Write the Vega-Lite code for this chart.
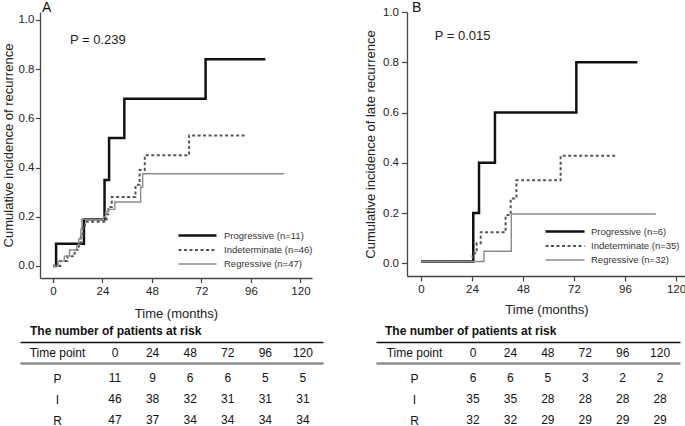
{
  "$schema": "https://vega.github.io/schema/vega-lite/v6.json",
  "padding": {"left": 2, "top": 0, "right": 0, "bottom": 0},
  "background": "white",
  "config": {
    "view": {"stroke": null},
    "font": "Liberation Sans",
    "axis": {"grid": false, "domainColor": "#444444", "domainWidth": 1.3, "tickColor": "#444444", "tickWidth": 1.2, "labelFont": "Liberation Sans", "labelFontSize": 11.5, "labelColor": "#222222", "titleFont": "Liberation Sans", "titleFontSize": 13, "titleFontWeight": "normal", "titleColor": "#222222"},
    "legend": {"labelFont": "Liberation Sans", "labelFontSize": 9.5, "labelColor": "#333333"},
    "title": {"font": "Liberation Sans", "fontWeight": "normal", "color": "#111111"},
    "text": {"font": "Liberation Sans"}
  },
  "datasets": {
    "kmA": [
      {"group": "Progressive (n=11)", "time": 0, "cum": 0},
      {"group": "Progressive (n=11)", "time": 1.5, "cum": 0.09},
      {"group": "Progressive (n=11)", "time": 15, "cum": 0.19},
      {"group": "Progressive (n=11)", "time": 25, "cum": 0.35},
      {"group": "Progressive (n=11)", "time": 27.2, "cum": 0.52},
      {"group": "Progressive (n=11)", "time": 34.6, "cum": 0.68},
      {"group": "Progressive (n=11)", "time": 74, "cum": 0.84},
      {"group": "Progressive (n=11)", "time": 103, "cum": 0.84},
      {"group": "Indeterminate (n=46)", "time": 0, "cum": 0},
      {"group": "Indeterminate (n=46)", "time": 3.5, "cum": 0.02},
      {"group": "Indeterminate (n=46)", "time": 7, "cum": 0.04},
      {"group": "Indeterminate (n=46)", "time": 10.5, "cum": 0.065},
      {"group": "Indeterminate (n=46)", "time": 12.5, "cum": 0.09},
      {"group": "Indeterminate (n=46)", "time": 13.5, "cum": 0.13},
      {"group": "Indeterminate (n=46)", "time": 14.5, "cum": 0.16},
      {"group": "Indeterminate (n=46)", "time": 15.5, "cum": 0.18},
      {"group": "Indeterminate (n=46)", "time": 26, "cum": 0.21},
      {"group": "Indeterminate (n=46)", "time": 26.8, "cum": 0.24},
      {"group": "Indeterminate (n=46)", "time": 28.5, "cum": 0.28},
      {"group": "Indeterminate (n=46)", "time": 40, "cum": 0.33},
      {"group": "Indeterminate (n=46)", "time": 42, "cum": 0.39},
      {"group": "Indeterminate (n=46)", "time": 44.5, "cum": 0.45},
      {"group": "Indeterminate (n=46)", "time": 66, "cum": 0.53},
      {"group": "Indeterminate (n=46)", "time": 93, "cum": 0.53},
      {"group": "Regressive (n=47)", "time": 0, "cum": 0},
      {"group": "Regressive (n=47)", "time": 2.5, "cum": 0.02},
      {"group": "Regressive (n=47)", "time": 5.5, "cum": 0.04},
      {"group": "Regressive (n=47)", "time": 8, "cum": 0.065},
      {"group": "Regressive (n=47)", "time": 11.5, "cum": 0.085},
      {"group": "Regressive (n=47)", "time": 12.5, "cum": 0.11},
      {"group": "Regressive (n=47)", "time": 13.5, "cum": 0.15},
      {"group": "Regressive (n=47)", "time": 14, "cum": 0.19},
      {"group": "Regressive (n=47)", "time": 24.5, "cum": 0.2},
      {"group": "Regressive (n=47)", "time": 25.5, "cum": 0.22},
      {"group": "Regressive (n=47)", "time": 27, "cum": 0.23},
      {"group": "Regressive (n=47)", "time": 30, "cum": 0.26},
      {"group": "Regressive (n=47)", "time": 42.5, "cum": 0.32},
      {"group": "Regressive (n=47)", "time": 43.5, "cum": 0.375},
      {"group": "Regressive (n=47)", "time": 112, "cum": 0.375}
    ],
    "kmB": [
      {"group": "Progressive (n=6)", "time": 0, "cum": 0.007},
      {"group": "Progressive (n=6)", "time": 24.6, "cum": 0.2},
      {"group": "Progressive (n=6)", "time": 27.3, "cum": 0.4},
      {"group": "Progressive (n=6)", "time": 34.8, "cum": 0.6},
      {"group": "Progressive (n=6)", "time": 73.1, "cum": 0.8},
      {"group": "Progressive (n=6)", "time": 101.8, "cum": 0.8},
      {"group": "Indeterminate (n=35)", "time": 0, "cum": 0.007},
      {"group": "Indeterminate (n=35)", "time": 24.3, "cum": 0.04},
      {"group": "Indeterminate (n=35)", "time": 26.2, "cum": 0.08},
      {"group": "Indeterminate (n=35)", "time": 28.1, "cum": 0.124},
      {"group": "Indeterminate (n=35)", "time": 39.8, "cum": 0.192},
      {"group": "Indeterminate (n=35)", "time": 42.2, "cum": 0.258},
      {"group": "Indeterminate (n=35)", "time": 44.9, "cum": 0.331},
      {"group": "Indeterminate (n=35)", "time": 65.7, "cum": 0.428},
      {"group": "Indeterminate (n=35)", "time": 91.6, "cum": 0.428},
      {"group": "Regressive (n=32)", "time": 0, "cum": 0.007},
      {"group": "Regressive (n=32)", "time": 29.6, "cum": 0.048},
      {"group": "Regressive (n=32)", "time": 42.5, "cum": 0.196},
      {"group": "Regressive (n=32)", "time": 110.5, "cum": 0.196}
    ],
    "riskA": [
      {"row": "Time point", "time": 0, "n": "0"},
      {"row": "Time point", "time": 24, "n": "24"},
      {"row": "Time point", "time": 48, "n": "48"},
      {"row": "Time point", "time": 72, "n": "72"},
      {"row": "Time point", "time": 96, "n": "96"},
      {"row": "Time point", "time": 120, "n": "120"},
      {"row": "P", "time": 0, "n": "11"},
      {"row": "P", "time": 24, "n": "9"},
      {"row": "P", "time": 48, "n": "6"},
      {"row": "P", "time": 72, "n": "6"},
      {"row": "P", "time": 96, "n": "5"},
      {"row": "P", "time": 120, "n": "5"},
      {"row": "I", "time": 0, "n": "46"},
      {"row": "I", "time": 24, "n": "38"},
      {"row": "I", "time": 48, "n": "32"},
      {"row": "I", "time": 72, "n": "31"},
      {"row": "I", "time": 96, "n": "31"},
      {"row": "I", "time": 120, "n": "31"},
      {"row": "R", "time": 0, "n": "47"},
      {"row": "R", "time": 24, "n": "37"},
      {"row": "R", "time": 48, "n": "34"},
      {"row": "R", "time": 72, "n": "34"},
      {"row": "R", "time": 96, "n": "34"},
      {"row": "R", "time": 120, "n": "34"}
    ],
    "riskB": [
      {"row": "Time point", "time": 0, "n": "0"},
      {"row": "Time point", "time": 24, "n": "24"},
      {"row": "Time point", "time": 48, "n": "48"},
      {"row": "Time point", "time": 72, "n": "72"},
      {"row": "Time point", "time": 96, "n": "96"},
      {"row": "Time point", "time": 120, "n": "120"},
      {"row": "P", "time": 0, "n": "6"},
      {"row": "P", "time": 24, "n": "6"},
      {"row": "P", "time": 48, "n": "5"},
      {"row": "P", "time": 72, "n": "3"},
      {"row": "P", "time": 96, "n": "2"},
      {"row": "P", "time": 120, "n": "2"},
      {"row": "I", "time": 0, "n": "35"},
      {"row": "I", "time": 24, "n": "35"},
      {"row": "I", "time": 48, "n": "28"},
      {"row": "I", "time": 72, "n": "28"},
      {"row": "I", "time": 96, "n": "28"},
      {"row": "I", "time": 120, "n": "28"},
      {"row": "R", "time": 0, "n": "32"},
      {"row": "R", "time": 24, "n": "32"},
      {"row": "R", "time": 48, "n": "29"},
      {"row": "R", "time": 72, "n": "29"},
      {"row": "R", "time": 96, "n": "29"},
      {"row": "R", "time": 120, "n": "29"}
    ]
  },
  "resolve": {"scale": {"color": "independent", "strokeDash": "independent", "strokeWidth": "independent"}, "legend": {"color": "independent", "strokeDash": "independent", "strokeWidth": "independent"}},
  "spacing": -8,
  "vconcat": [
    {
      "spacing": 51,
      "resolve": {"scale": {"color": "independent", "strokeDash": "independent", "strokeWidth": "independent"}, "legend": {"color": "independent", "strokeDash": "independent", "strokeWidth": "independent"}},
      "hconcat": [
        {
          "width": 272,
          "height": 266,
          "layer": [
            {
              "data": {"name": "kmA"},
              "mark": {"type": "line", "interpolate": "step-after"},
              "encoding": {
                "x": {"field": "time", "type": "quantitative", "scale": {"domain": [-6.3, 125.6], "nice": false, "zero": false}, "axis": {"title": "Time (months)", "values": [0, 24, 48, 72, 96, 120], "tickSize": 4.5, "labelPadding": 2.5, "titlePadding": 11}},
                "y": {"field": "cum", "type": "quantitative", "scale": {"domain": [-0.0488, 1.0325], "nice": false, "zero": false}, "axis": {"title": "Cumulative incidence of recurrence", "values": [0, 0.2, 0.4, 0.6, 0.8, 1.0], "format": ".1f", "tickSize": 4.5, "labelPadding": 1.5, "titlePadding": 3}},
                "color": {"field": "group", "type": "nominal", "scale": {"domain": ["Progressive (n=11)", "Indeterminate (n=46)", "Regressive (n=47)"], "range": ["#111111", "#555555", "#8a8a8a"]}, "legend": {"title": null, "orient": "none", "legendX": 132, "legendY": 217, "symbolType": "M0,0H7.6", "symbolSize": 100, "labelOffset": 39, "rowPadding": 3, "padding": 0}},
                "strokeDash": {"field": "group", "type": "nominal", "scale": {"domain": ["Progressive (n=11)", "Indeterminate (n=46)", "Regressive (n=47)"], "range": [[1, 0], [3, 2.5], [1, 0]]}},
                "strokeWidth": {"field": "group", "type": "nominal", "scale": {"type": "ordinal", "domain": ["Progressive (n=11)", "Indeterminate (n=46)", "Regressive (n=47)"], "range": [2.5, 2, 1.4]}}
              }
            },
            {
              "data": {"values": [{"label": "P = 0.239"}]},
              "mark": {"type": "text", "align": "left", "baseline": "middle", "fontSize": 13, "color": "#222222"},
              "encoding": {"x": {"datum": 8.2}, "y": {"datum": 0.9175}, "text": {"field": "label"}}
            },
            {
              "data": {"values": [{"label": "A"}]},
              "mark": {"type": "text", "align": "center", "baseline": "middle", "fontSize": 14, "color": "#111111"},
              "encoding": {"x": {"datum": -3.05}, "y": {"datum": 1.049}, "text": {"field": "label"}}
            }
          ]
        },
        {
          "width": 279,
          "height": 264,
          "layer": [
            {
              "data": {"name": "kmB"},
              "mark": {"type": "line", "interpolate": "step-after"},
              "encoding": {
                "x": {"field": "time", "type": "quantitative", "scale": {"domain": [-6.59, 124.7], "nice": false, "zero": false}, "axis": {"title": "Time (months)", "values": [0, 24, 48, 72, 96, 120], "tickSize": 5, "labelPadding": 2.5, "titlePadding": 8}},
                "y": {"field": "cum", "type": "quantitative", "scale": {"domain": [-0.0505, 1.0], "nice": false, "zero": false}, "axis": {"title": "Cumulative incidence of late recurrence", "values": [0, 0.2, 0.4, 0.6, 0.8, 1.0], "format": ".1f", "tickSize": 5.5, "labelPadding": 3, "titlePadding": 5}},
                "color": {"field": "group", "type": "nominal", "scale": {"domain": ["Progressive (n=6)", "Indeterminate (n=35)", "Regressive (n=32)"], "range": ["#111111", "#555555", "#8a8a8a"]}, "legend": {"title": null, "orient": "none", "legendX": 132, "legendY": 213, "symbolType": "M0,0H7.8", "symbolSize": 100, "labelOffset": 39, "rowPadding": 3, "padding": 0}},
                "strokeDash": {"field": "group", "type": "nominal", "scale": {"domain": ["Progressive (n=6)", "Indeterminate (n=35)", "Regressive (n=32)"], "range": [[1, 0], [3, 2.5], [1, 0]]}},
                "strokeWidth": {"field": "group", "type": "nominal", "scale": {"type": "ordinal", "domain": ["Progressive (n=6)", "Indeterminate (n=35)", "Regressive (n=32)"], "range": [2.5, 2, 1.4]}}
              }
            },
            {
              "data": {"values": [{"label": "P = 0.015"}]},
              "mark": {"type": "text", "align": "left", "baseline": "middle", "fontSize": 13, "color": "#222222"},
              "encoding": {"x": {"datum": 6.45}, "y": {"datum": 0.903}, "text": {"field": "label"}}
            },
            {
              "data": {"values": [{"label": "B"}]},
              "mark": {"type": "text", "align": "center", "baseline": "middle", "fontSize": 14, "color": "#111111"},
              "encoding": {"x": {"datum": -2.0}, "y": {"datum": 1.016}, "text": {"field": "label"}}
            }
          ]
        }
      ]
    },
    {
      "spacing": 49,
      "hconcat": [
        {
          "width": 283,
          "height": 105,
          "data": {"name": "riskA"},
          "title": {"text": "The number of patients at risk", "anchor": "start", "frame": "group", "dx": -10, "offset": -22.5, "fontSize": 12, "fontWeight": "bold"},
          "encoding": {
            "y": {"field": "row", "type": "nominal", "scale": {"domain": ["", "Time point", "P", "I", "R"], "paddingInner": 0, "paddingOuter": 0},
              "axis": {"title": null, "domain": false, "offset": 20, "tickBand": "extent", "tickSize": -303,
                "tickColor": {"condition": {"test": "datum.value === 'Time point'", "value": "#8c8c8c"}, "value": "#111111"},
                "tickWidth": {"condition": {"test": "datum.value === 'Time point'", "value": 2.5}, "value": 1.3},
                "tickOpacity": {"condition": {"test": "(datum.value === '' && !datum.extra) || datum.value === 'Time point'", "value": 1}, "value": 0},
                "labelAlign": "center", "labelBaseline": "middle", "labelPadding": 266, "labelFontSize": 12, "labelColor": "#111111", "labelOverlap": false,
                "labelOffset": {"condition": {"test": "datum.value === 'Time point'", "value": 0}, "value": 4.5}}},
            "x": {"field": "time", "type": "quantitative", "scale": {"domain": [-47.9, 132.8], "nice": false, "zero": false}, "axis": null},
            "text": {"field": "n", "type": "nominal"}
          },
          "layer": [
            {"transform": [{"filter": "datum.row === 'Time point'"}], "mark": {"type": "text", "fontSize": 12, "color": "#111111"}},
            {"transform": [{"filter": "datum.row !== 'Time point'"}], "mark": {"type": "text", "fontSize": 12, "color": "#111111", "dy": 4.5}}
          ]
        },
        {
          "width": 284,
          "height": 105,
          "data": {"name": "riskB"},
          "title": {"text": "The number of patients at risk", "anchor": "start", "frame": "group", "dx": -11, "offset": -22.5, "fontSize": 12, "fontWeight": "bold"},
          "encoding": {
            "y": {"field": "row", "type": "nominal", "scale": {"domain": ["", "Time point", "P", "I", "R"], "paddingInner": 0, "paddingOuter": 0},
              "axis": {"title": null, "domain": false, "offset": 20, "tickBand": "extent", "tickSize": -304,
                "tickColor": {"condition": {"test": "datum.value === 'Time point'", "value": "#8c8c8c"}, "value": "#111111"},
                "tickWidth": {"condition": {"test": "datum.value === 'Time point'", "value": 2.5}, "value": 1.3},
                "tickOpacity": {"condition": {"test": "(datum.value === '' && !datum.extra) || datum.value === 'Time point'", "value": 1}, "value": 0},
                "labelAlign": "center", "labelBaseline": "middle", "labelPadding": 266, "labelFontSize": 12, "labelColor": "#111111", "labelOverlap": false,
                "labelOffset": {"condition": {"test": "datum.value === 'Time point'", "value": 0}, "value": 4.5}}},
            "x": {"field": "time", "type": "quantitative", "scale": {"domain": [-49.4, 132.8], "nice": false, "zero": false}, "axis": null},
            "text": {"field": "n", "type": "nominal"}
          },
          "layer": [
            {"transform": [{"filter": "datum.row === 'Time point'"}], "mark": {"type": "text", "fontSize": 12, "color": "#111111"}},
            {"transform": [{"filter": "datum.row !== 'Time point'"}], "mark": {"type": "text", "fontSize": 12, "color": "#111111", "dy": 4.5}}
          ]
        }
      ]
    }
  ]
}
